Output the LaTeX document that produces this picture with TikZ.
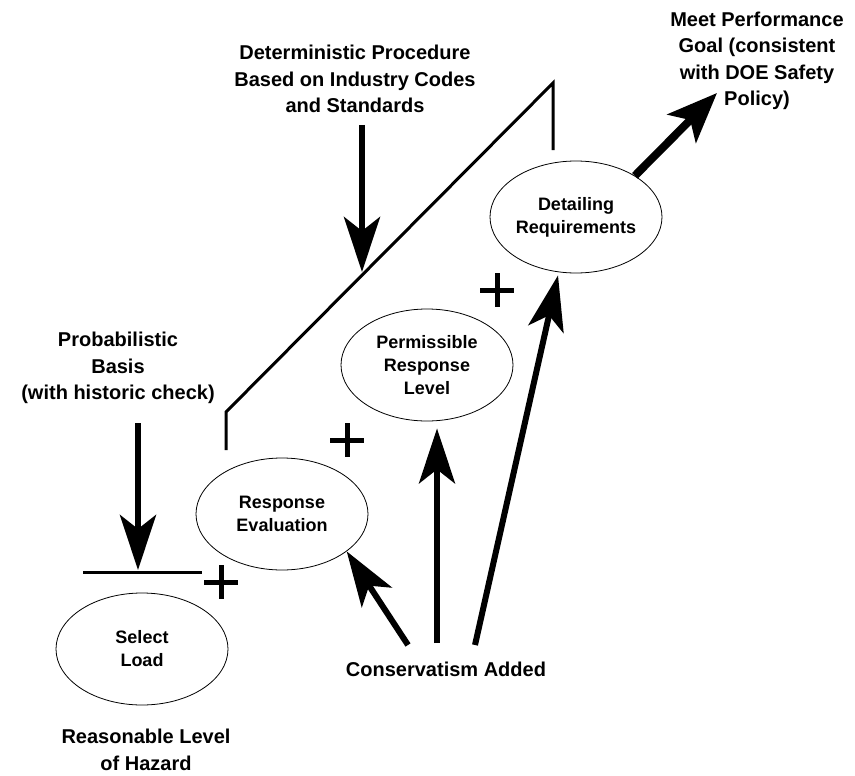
\documentclass[tikz,border=0pt]{standalone}
\usepackage{fontspec}
\setmainfont{Liberation Sans}
\usetikzlibrary{arrows.meta,positioning,shapes.geometric}

\begin{document}
\begin{tikzpicture}[x=1pt, y=-1pt,
        bubble/.style={draw, ellipse, line width=0.8pt, minimum width=172pt, minimum height=112pt, inner sep=0pt, align=center, font=\bfseries\fontsize{18}{23}\selectfont},
        note/.style={align=center, font=\bfseries\fontsize{20}{26.5}\selectfont},
        arrow/.style={-{Stealth[length=55pt, width=36pt, inset=14pt]}, line width=6pt},
        rail/.style={line width=3pt},
        plussign/.style={line width=5pt}
    ]
    \useasboundingbox (0,0) rectangle (855,776);

    % the four steps
    \node[bubble] (sel)  at (142,649) {Select\\Load};
    \node[bubble] (resp) at (282,514) {Response\\Evaluation};
    \node[bubble] (perm) at (427,365) {Permissible\\Response\\Level};
    \node[bubble] (det)  at (576,217) {Detailing\\Requirements};

    % texts round them
    \node[note] (prob) at (118,368) {Probabilistic\\Basis\\(with historic check)};
    \node[note] (detp) at (355,79)  {Deterministic Procedure\\Based on Industry Codes\\and Standards};
    \node[note] (goal) at (757,61)  {Meet Performance\\Goal (consistent\\with DOE Safety\\Policy)};
    \node[note] (haz)  at (146,750) {Reasonable Level\\of Hazard};
    \node[note] (cons) at (446,669) {Conservatism Added};

    % free ends
    \coordinate (ptop) at (138,423);
    \coordinate (pbot) at (138,570);
    \coordinate (dtop) at (362,125);
    \coordinate (dbot) at (362,272);
    \coordinate (gtip) at (717,93);
    \coordinate (t1) at (408,645);
    \coordinate (t2) at (437,643);
    \coordinate (t3) at (475,645);

    % bar over the load, rail from evaluation to detailing
    \draw[rail] (83,572) -- (202,572);
    \draw[rail] (226,450) -- (226,412) -- (553,83) -- (553,150);

    \draw[arrow] (ptop) -- (pbot);
    \draw[arrow] (dtop) -- (dbot);
    \draw[arrow, line width=8pt, -{Stealth[length=50pt, width=40pt, inset=12pt]}] (det.35) -- (gtip);

    \draw[arrow] (t1) -- (resp.-30);
    \draw[arrow] (t2) -- ([yshift=-7pt]t2 |- perm.south);
    \draw[arrow] (t3) -- ([xshift=-18pt, yshift=-2pt]det.south);

    \foreach \px/\py in {221/582, 347/440, 497/290}
        \draw[plussign] (\px-17,\py) -- (\px+17,\py) (\px,\py-17) -- (\px,\py+17);
\end{tikzpicture}
\end{document}
